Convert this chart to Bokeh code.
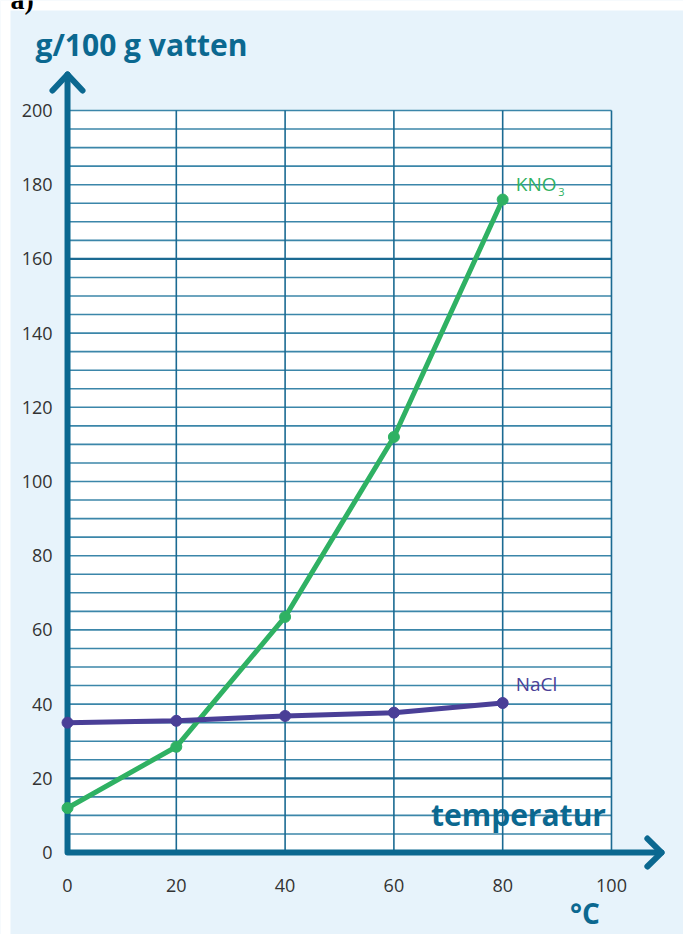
from bokeh.plotting import figure
from bokeh.models import Range1d, Label
from bokeh.core.properties import value
from bokeh.embed import file_html
from bokeh.resources import INLINE

# ---- data ----
temps = [0, 20, 40, 60, 80]
kno3 = [12, 28.5, 63.5, 112, 176]
nacl = [35, 35.5, 36.8, 37.7, 40.3]
x_ticks = [0, 20, 40, 60, 80, 100]
y_ticks = [0, 20, 40, 60, 80, 100, 120, 140, 160, 180, 200]
x_tick_labels = [str(t) for t in x_ticks]
y_tick_labels = [str(t) for t in y_ticks]
grid_x = [20, 40, 60, 80, 100]
grid_y = list(range(5, 205, 5))

BG = "#e7f3fb"
AXIS = "#0b6890"
GRID = "#3b86a9"
GRID_DARK = "#1b6a92"
GREEN = "#2fb163"
PURPLE = "#4a3f97"
TICK = "#333333"
FONT = "Open Sans"

# frame covers the whole canvas: 5.44 px per degree, 3.71 px per g
X0, X1 = -12.32, 113.24
Y0, Y1 = -22.1, 229.65

p = figure(width=683, height=934, x_range=Range1d(X0, X1), y_range=Range1d(Y0, Y1),
           output_backend="svg", toolbar_location=None, title=None,
           x_axis_location=None, y_axis_location=None,
           min_border=0, min_border_left=0, min_border_right=0,
           min_border_top=0, min_border_bottom=0)
p.grid.visible = False
p.outline_line_color = None
p.background_fill_color = BG
p.border_fill_color = BG

# white page strip at top/left of the panel
p.quad(left=[X0, X0], right=[-10.48, X1], bottom=[Y0, 226.95], top=[Y1, Y1],
       fill_color="white", line_color=None)

# white plotting area
p.quad(left=[x_ticks[0]], right=[x_ticks[-1]], bottom=[y_ticks[0]], top=[y_ticks[-1]],
       fill_color="white", line_color=None)

# grid
hx0 = [x_ticks[0]] * len(grid_y)
hx1 = [x_ticks[-1]] * len(grid_y)
hcol = [GRID_DARK if g in (20, 160) else GRID for g in grid_y]
hw = [2.2 if g in (20, 160) else 1.6 for g in grid_y]
p.segment(x0=hx0, y0=grid_y, x1=hx1, y1=grid_y, line_color=hcol, line_width=hw)
p.segment(x0=grid_x, y0=[y_ticks[0]] * len(grid_x), x1=grid_x, y1=[y_ticks[-1]] * len(grid_x),
          line_color=GRID_DARK, line_width=1.6)

# axes with arrows
p.line([0, 0, 109.2], [209.7, 0, 0], line_color=AXIS, line_width=6,
       line_join="round", line_cap="round")
p.line([-2.76, 0, 2.76], [205.4, 209.7, 205.4], line_color=AXIS, line_width=6,
       line_join="round", line_cap="round")
p.line([106.6, 109.2, 106.6], [3.77, 0, -3.77], line_color=AXIS, line_width=6,
       line_join="round", line_cap="round")

# tick labels
p.text(x=x_ticks, y=[-8.9] * len(x_ticks), text=x_tick_labels, text_align="center",
       text_baseline="middle", text_font=value(FONT), text_font_size="18px", text_color=TICK)
p.text(x=[-2.76] * len(y_ticks), y=y_ticks, text=y_tick_labels, text_align="right",
       text_baseline="middle", text_font=value(FONT), text_font_size="18px", text_color=TICK)

# series
p.line(temps, kno3, line_color=GREEN, line_width=5, line_join="round")
p.scatter(temps, kno3, size=11, fill_color=GREEN, line_color=GREEN)
p.line(temps, nacl, line_color=PURPLE, line_width=5, line_join="round")
p.scatter(temps, nacl, size=11, fill_color=PURPLE, line_color=PURPLE)

# texts
p.add_layout(Label(x=82.4, y=180.3, text="KNO", text_color=GREEN, text_font=FONT,
                   text_font_size="19px", text_baseline="middle"))
p.add_layout(Label(x=90.2, y=177.9, text="3", text_color=GREEN, text_font=FONT,
                   text_font_size="11px", text_baseline="middle"))
p.add_layout(Label(x=82.4, y=45.3, text="NaCl", text_color=PURPLE, text_font=FONT,
                   text_font_size="19px", text_baseline="middle"))
p.add_layout(Label(x=82.9, y=10.2, text="temperatur", text_color=AXIS, text_font=FONT,
                   text_font_style="bold", text_font_size="30px", text_baseline="middle",
                   text_align="center"))
p.add_layout(Label(x=-5.88, y=217.8, text="g/100 g vatten", text_color=AXIS, text_font=FONT,
                   text_font_style="bold", text_font_size="30px", text_baseline="middle"))
p.add_layout(Label(x=95.1, y=-16.4, text="°C", text_color=AXIS, text_font=FONT,
                   text_font_style="bold", text_font_size="28px", text_baseline="middle",
                   text_align="center"))
p.add_layout(Label(x=-10.5, y=229.9, text="a)", text_color="black",
                   text_font="Liberation Serif", text_font_style="bold",
                   text_font_size="28px", text_baseline="alphabetic"))

open("out.html", "w").write(file_html(p, INLINE))
